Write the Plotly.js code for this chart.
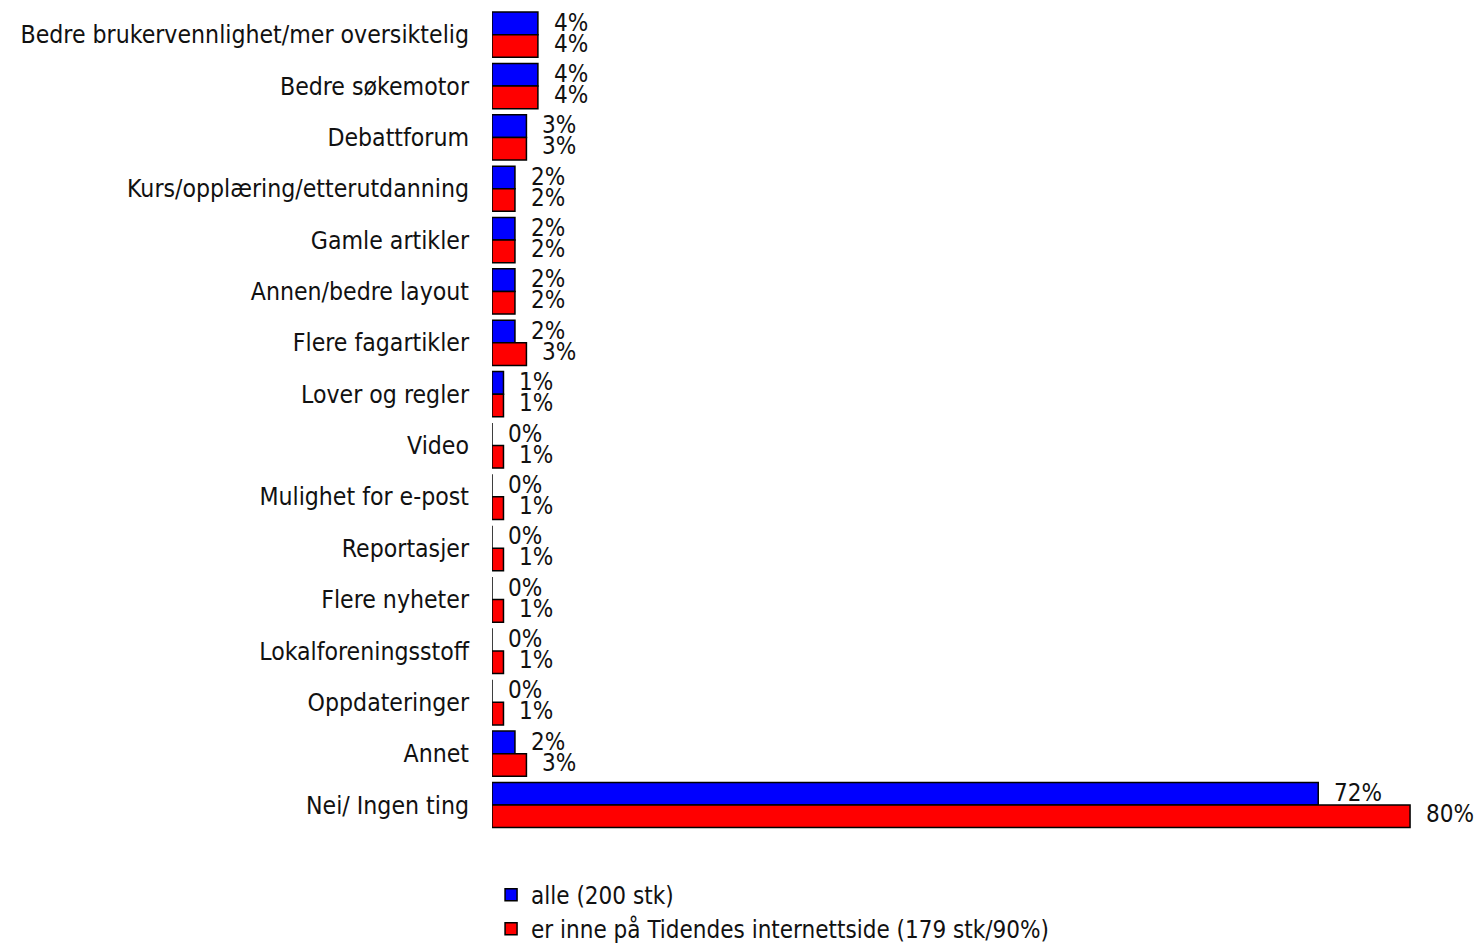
<!DOCTYPE html>
<html>
<head>
<meta charset="utf-8">
<script src="https://cdn.plot.ly/plotly-3.0.1.min.js"></script>
<style>html,body{margin:0;padding:0;background:#fff;}#chart{width:1480px;height:945px;}</style>
</head>
<body>
<div id="chart"></div>
<script>
const categories = [
  "Bedre brukervennlighet/mer oversiktelig",
  "Bedre søkemotor",
  "Debattforum",
  "Kurs/opplæring/etterutdanning",
  "Gamle artikler",
  "Annen/bedre layout",
  "Flere fagartikler",
  "Lover og regler",
  "Video",
  "Mulighet for e-post",
  "Reportasjer",
  "Flere nyheter",
  "Lokalforeningsstoff",
  "Oppdateringer",
  "Annet",
  "Nei/ Ingen ting"
];
const alleValues = [4, 4, 3, 2, 2, 2, 2, 1, 0, 0, 0, 0, 0, 0, 2, 72];
const tidendeValues = [4, 4, 3, 2, 2, 2, 3, 1, 1, 1, 1, 1, 1, 1, 3, 80];
const seriesNames = ["alle (200 stk)", "er inne på Tidendes internettside (179 stk/90%)"];

const FONT = "'DejaVu Sans Condensed', 'Liberation Sans Narrow', Arial, sans-serif";
const FS = 24.6;

const traces = [
  {type: 'bar', orientation: 'h', name: seriesNames[0], y: categories, x: alleValues,
   marker: {color: '#0000ff', line: {color: '#000', width: 1.5}}, legendgroup: 'a', hoverinfo: 'x+y'},
  {type: 'bar', orientation: 'h', name: seriesNames[1], y: categories, x: tidendeValues,
   marker: {color: '#ff0000', line: {color: '#000', width: 1.5}}, legendgroup: 'b', hoverinfo: 'x+y'}
];

const annotations = [];
categories.forEach((c, i) => {
  annotations.push({x: alleValues[i], y: c, xref: 'x', yref: 'y', text: alleValues[i] + '%', showarrow: false,
    xanchor: 'left', yanchor: 'middle', xshift: 14, yshift: 12, font: {family: FONT, size: 24, color: '#111'}});
  annotations.push({x: tidendeValues[i], y: c, xref: 'x', yref: 'y', text: tidendeValues[i] + '%', showarrow: false,
    xanchor: 'left', yanchor: 'middle', xshift: 14, yshift: -9, font: {family: FONT, size: 24, color: '#111'}});
});

const layout = {
  width: 1480, height: 945,
  margin: {l: 492, r: 47, t: 9, b: 112, autoexpand: false},
  paper_bgcolor: '#fff', plot_bgcolor: '#fff',
  barmode: 'group', bargap: 0.12, bargroupgap: 0,
  font: {family: FONT, size: FS, color: '#111'},
  xaxis: {range: [0, 82], showgrid: false, zeroline: false, showline: false, showticklabels: false, ticks: '', fixedrange: true},
  yaxis: {autorange: 'reversed', type: 'category', showgrid: false, zeroline: false, showline: false, ticks: '',
          ticklabelstandoff: 22, tickfont: {family: FONT, size: FS, color: '#111'}},
  showlegend: true,
  legend: {x: -0.001, y: -0.048, xanchor: 'left', yanchor: 'top', orientation: 'v', traceorder: 'normal',
           tracegroupgap: 8, font: {family: FONT, size: 24, color: '#111'}, bgcolor: 'rgba(0,0,0,0)'},
  annotations: annotations
};

Plotly.newPlot('chart', traces, layout, {displayModeBar: false, staticPlot: true});
</script>
</body>
</html>
